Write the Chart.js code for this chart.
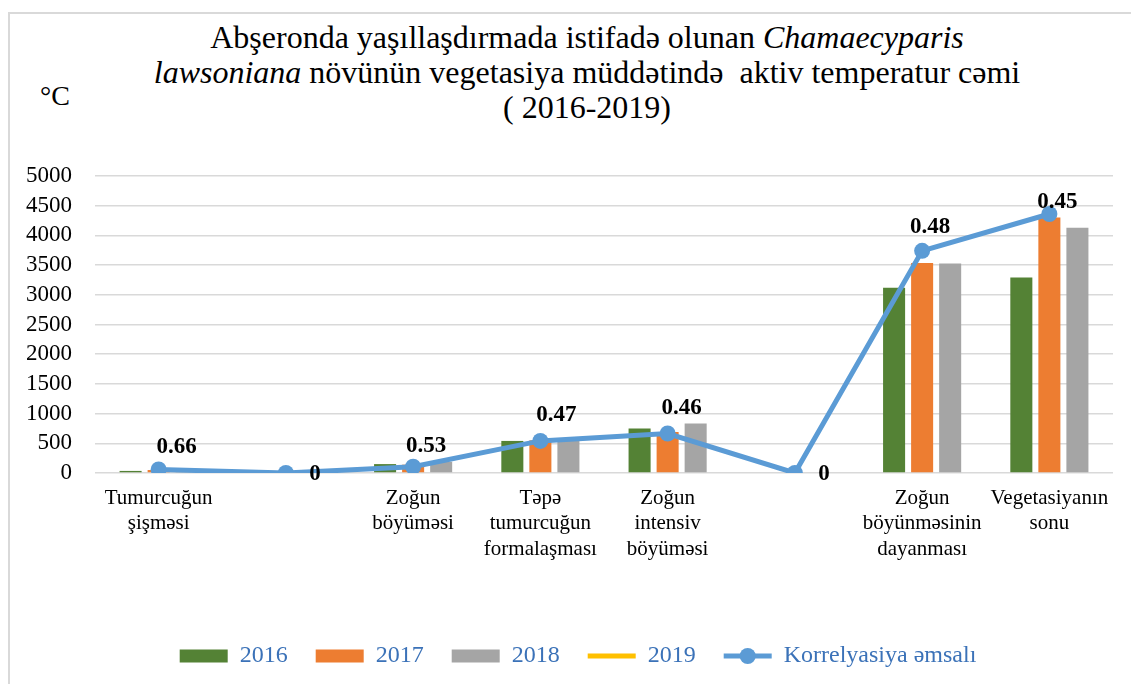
<!DOCTYPE html>
<html>
<head>
<meta charset="utf-8">
<script src="https://cdn.jsdelivr.net/npm/chart.js@4.4.1/dist/chart.umd.min.js"></script>
<style>
  html, body { margin:0; padding:0; background:#fff; }
  #wrap { position:relative; width:1131px; height:684px; overflow:hidden; }
  #frame { position:absolute; left:8px; top:12px; width:1200px; height:800px;
           border-left:2px solid #d9d9d9; border-top:2px solid #d9d9d9; box-sizing:border-box; }
  #title { position:absolute; left:43px; top:20px; width:1088px; text-align:center;
           font-family:"Liberation Serif","Times New Roman",serif; font-size:32px; line-height:35px; color:#000; }
  #unit { position:absolute; left:40px; top:80px; font-family:"Liberation Serif",serif; font-size:28px; color:#000; }
  canvas { position:absolute; left:0; top:0; }
</style>
</head>
<body>
<div id="wrap">
  <div id="frame"></div>
  <div id="title">Abşeronda yaşıllaşdırmada istifadə olunan <i>Chamaecyparis</i><br><i>lawsoniana</i> növünün vegetasiya müddətində&nbsp; aktiv temperatur cəmi<br>( 2016-2019)</div>
  <div id="unit">°C</div>
  <canvas id="c" width="1131" height="684"></canvas>
</div>
<script>
// ---- data ----
const categories = [
  ['Tumurcuğun', 'şişməsi'],
  '',
  ['Zoğun', 'böyüməsi'],
  ['Təpə', 'tumurcuğun', 'formalaşması'],
  ['Zoğun', 'intensiv', 'böyüməsi'],
  '',
  ['Zoğun', 'böyünməsinin', 'dayanması'],
  ['Vegetasiyanın', 'sonu']
];
const values2016 = [35, 0, 150, 540, 750, 0, 3120, 3290];
const values2017 = [50, 0, 140, 550, 690, 0, 3535, 4300];
const values2018 = [30, 0, 190, 540, 835, 0, 3525, 4130];
const values2019 = [null, null, null, null, null, null, null, null];
const correlationPositions = [60, 0, 105, 540, 665, 0, 3740, 4360];
const correlationLabels = ['0.66', '0', '0.53', '0.47', '0.46', '0', '0.48', '0.45'];
const yTickMax = 5000;
const yTickStep = 500;

// ---- styles ----
const labelOffsetX = [18, 29, 13, 16, 14, 29, 8, 8];
const labelOffsetY = [-22, 1, -21, -26, -25, 1, -24, -12];
const SERIF = '"Liberation Serif", "Times New Roman", serif';
const legendTextColor = '#3b72b8';
const legendShift = 16.5;

const corrLabelPlugin = {
  id: 'corrLabels',
  afterDatasetsDraw(chart) {
    const idx = chart.data.datasets.findIndex(d => d.isCorr);
    const meta = chart.getDatasetMeta(idx);
    const ctx = chart.ctx;
    ctx.save();
    ctx.font = 'bold 23px ' + SERIF;
    ctx.fillStyle = '#000';
    ctx.textAlign = 'center';
    ctx.textBaseline = 'middle';
    meta.data.forEach((pt, i) => {
      ctx.fillText(correlationLabels[i], pt.x + labelOffsetX[i], pt.y + labelOffsetY[i]);
    });
    ctx.restore();
  }
};

const legendMarkerPlugin = {
  id: 'legendMarker',
  afterLayout(chart) {
    if (chart.legend) {
      chart.legend.left += legendShift;
      chart.legend.right += legendShift;
    }
  },
  afterDraw(chart) {
    const lg = chart.legend;
    if (!lg || !lg.legendHitBoxes) return;
    const idx = chart.data.datasets.findIndex(d => d.isCorr);
    const hb = lg.legendHitBoxes[idx];
    if (!hb) return;
    const ctx = chart.ctx;
    ctx.save();
    ctx.fillStyle = '#5B9BD5';
    ctx.beginPath();
    ctx.arc(hb.left + 24, hb.top + hb.height / 2, 8, 0, Math.PI * 2);
    ctx.fill();
    ctx.restore();
  }
};

new Chart(document.getElementById('c'), {
  data: {
    labels: categories,
    datasets: [
      { type: 'bar', label: '2016', data: values2016, backgroundColor: '#548235', order: 2 },
      { type: 'bar', label: '2017', data: values2017, backgroundColor: '#ED7D31', order: 2 },
      { type: 'bar', label: '2018', data: values2018, backgroundColor: '#A5A5A5', order: 2 },
      { type: 'line', label: '2019', data: values2019, borderColor: '#FFC000', backgroundColor: '#FFC000',
        borderWidth: 5, pointRadius: 0, order: 1 },
      { type: 'line', label: 'Korrelyasiya əmsalı', data: correlationPositions, isCorr: true,
        borderColor: '#5B9BD5', backgroundColor: '#5B9BD5', borderWidth: 5,
        pointRadius: 8, pointBackgroundColor: '#5B9BD5', pointBorderColor: '#5B9BD5', pointBorderWidth: 0,
        tension: 0, order: 0 }
    ]
  },
  options: {
    responsive: false,
    animation: false,
    maintainAspectRatio: false,
    datasets: { bar: { categoryPercentage: 0.661, barPercentage: 0.786 } },
    layout: { padding: { left: 10, right: 18, top: 176, bottom: 6 } },
    plugins: {
      title: { display: false },
      tooltip: { enabled: false },
      legend: {
        position: 'bottom',
        labels: {
          usePointStyle: true,
          pointStyleWidth: 48,
          boxHeight: 13,
          padding: 28,
          color: legendTextColor,
          font: { family: SERIF, size: 24 },
          sort: (a, b) => a.datasetIndex - b.datasetIndex,
          generateLabels(chart) {
            return chart.data.datasets.map((ds, i) => ({
              text: ds.label,
              fillStyle: ds.backgroundColor,
              strokeStyle: ds.type === 'line' ? ds.borderColor : ds.backgroundColor,
              lineWidth: ds.type === 'line' ? 5 : 0,
              pointStyle: ds.type === 'line' ? 'line' : 'rect',
              fontColor: legendTextColor,
              hidden: false,
              datasetIndex: i
            }));
          }
        }
      }
    },
    scales: {
      x: {
        grid: { display: false, drawTicks: false },
        border: { display: false },
        ticks: { color: '#000', font: { family: SERIF, size: 21 }, padding: 13, maxRotation: 0, autoSkip: false },
        afterFit(scale) { scale.height = 143; }
      },
      y: {
        min: 0, max: yTickMax,
        grid: { color: '#d9d9d9', lineWidth: 1.5, drawTicks: false },
        border: { display: false },
        ticks: { stepSize: yTickStep, autoSkip: false, color: '#000', font: { family: SERIF, size: 23 }, padding: 23,
                 callback: (v) => String(v) },
        afterFit(scale) { scale.width = 85; }
      }
    }
  },
  plugins: [corrLabelPlugin, legendMarkerPlugin]
});
</script>
</body>
</html>
